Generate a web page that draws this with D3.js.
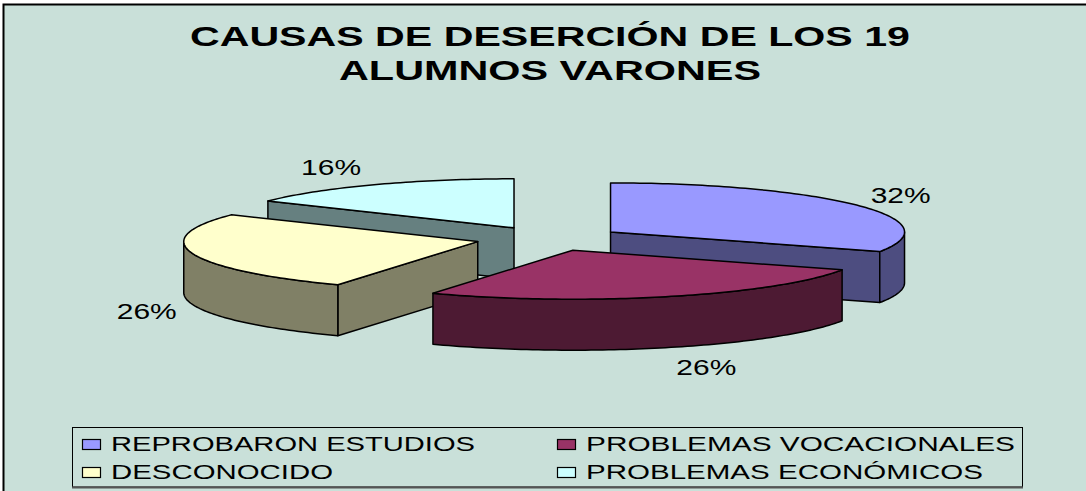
<!DOCTYPE html>
<html><head><meta charset="utf-8">
<script src="https://cdn.jsdelivr.net/npm/d3@7"></script>
<style>html,body{margin:0;padding:0;background:#fff}svg{display:block}text{font-family:"Liberation Sans",Arial,sans-serif;fill:#000}</style>
</head><body><svg id="c" width="1086" height="491"></svg>
<script>
const categories = ["REPROBARON ESTUDIOS","PROBLEMAS VOCACIONALES","DESCONOCIDO","PROBLEMAS ECONÓMICOS"];
const values = [6,5,5,3];
const topColors = ["#9999ff","#993366","#ffffcc","#ccffff"];
const sideColors = ["#4d4d80","#4d1a33","#808066","#668080"];
const titleLines = ["CAUSAS DE DESERCIÓN DE LOS 19","ALUMNOS VARONES"];
const labelShift = [[44,-10],[38,19],[-46,6],[-43,-18]];

const W=1086,H=491,svg=d3.select("#c");
const bg="#c9e0d9";
svg.append("rect").attr("x",3.5).attr("y",4.5).attr("width",W+10).attr("height",H+10)
  .attr("fill",bg).attr("stroke","#000").attr("stroke-width",2);

// title
[[45.5,720,190],[80,422,339]].forEach((t,i)=>{
  svg.append("text").attr("x",t[2]).attr("y",t[0]).attr("font-size",27.5).attr("font-weight","bold")
    .attr("textLength",t[1]).attr("lengthAdjust","spacingAndGlyphs").text(titleLines[i]);
});

// projected exploded 3-D pie
const cx=549,cy=238.6,rx=294,ry=49,depth=51,explode=0.25;
const sx=d3.scaleLinear().domain([-1,1]).range([cx-rx,cx+rx]);
const sy=d3.scaleLinear().domain([-1,1]).range([cy-ry,cy+ry]);
const pie=d3.pie().sort(null).startAngle(0).endAngle(2*Math.PI)(values);
const total=d3.sum(values);
const line=d3.line();
const sample=(a,b)=>{const n=Math.max(2,Math.ceil((b-a)/0.02));return d3.range(n+1).map(i=>a+(b-a)*i/n);};
const drawOrder=[3,0,2,1];
const stroke={stroke:"#000","stroke-width":1.5,"stroke-linejoin":"round"};
const face=(pts,fill)=>{const p=svg.append("path").attr("d",line(pts)+"Z").attr("fill",fill);
  Object.entries(stroke).forEach(([k,v])=>p.attr(k,v));};
drawOrder.forEach(i=>{
  const s=pie[i],mid=(s.startAngle+s.endAngle)/2;
  const ox=explode*Math.sin(mid),oy=-explode*Math.cos(mid);
  const P=(t,r=1,dz=0)=>[sx(ox+r*Math.sin(t)),sy(oy-r*Math.cos(t))+dz];
  const apex=P(0,0);
  const wall=t=>face([P(t,0),P(t),P(t,1,depth),P(t,0,depth)],sideColors[i]);
  if(Math.sin(s.startAngle)<-1e-6) wall(s.startAngle);
  if(Math.sin(s.endAngle)>1e-6) wall(s.endAngle);
  const a=Math.max(s.startAngle,Math.PI/2),b=Math.min(s.endAngle,3*Math.PI/2);
  if(b>a){const ang=sample(a,b);
    face(ang.map(t=>P(t)).concat(ang.slice().reverse().map(t=>P(t,1,depth))),sideColors[i]);}
  face([apex].concat(sample(s.startAngle,s.endAngle).map(t=>P(t))),topColors[i]);
});

// percent labels
pie.forEach((s,i)=>{
  const mid=(s.startAngle+s.endAngle)/2;
  const ox=explode*Math.sin(mid),oy=-explode*Math.cos(mid);
  const front=Math.cos(mid)<0||i===2;
  const x=sx(ox+Math.sin(mid))+labelShift[i][0];
  const y=sy(oy-Math.cos(mid))+(front?depth:0)+labelShift[i][1];
  svg.append("text").attr("x",x-30).attr("y",y+8).attr("font-size",21.5)
    .attr("textLength",60).attr("lengthAdjust","spacingAndGlyphs")
    .text(d3.format(".0%")(values[i]/total));
});

// legend
svg.append("rect").attr("x",72.5).attr("y",427.5).attr("width",950).attr("height",59.5)
  .attr("fill",bg).attr("stroke","#000").attr("stroke-width",1);
svg.append("line").attr("x1",72).attr("x2",1023).attr("y1",487.5).attr("y2",487.5).attr("stroke","#555").attr("stroke-width",2);
const colX=[82,557],rowY=[451,479],legendWidths=[364,429,222,397];
categories.forEach((c,i)=>{
  const col=i%2,row=Math.floor(i/2);
  svg.append("rect").attr("x",colX[col]+.5).attr("y",rowY[row]-11.5).attr("width",18).attr("height",10)
    .attr("fill",topColors[i]).attr("stroke","#000").attr("stroke-width",1.2);
  svg.append("text").attr("x",colX[col]+29).attr("y",rowY[row]).attr("font-size",20)
    .attr("textLength",legendWidths[i]).attr("lengthAdjust","spacingAndGlyphs").text(c);
});
</script></body></html>
